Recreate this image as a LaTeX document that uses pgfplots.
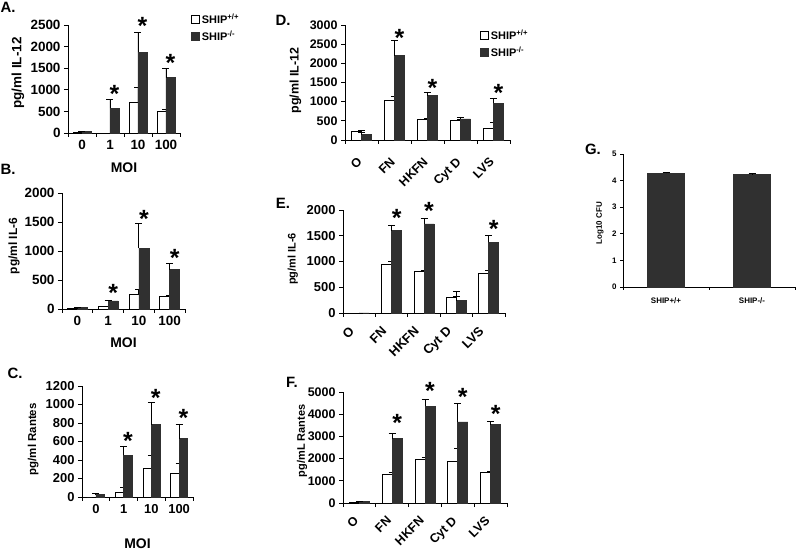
\documentclass[border=0pt]{standalone}
\usepackage{fontspec}
\setmainfont{Liberation Sans}
\usepackage{pgfplots}
\pgfplotsset{compat=1.18}
\definecolor{barblack}{gray}{0.19}
\pgfplotsset{
  panel/.style={
    scale only axis, anchor=south west, clip=false,
    axis x line*=bottom, axis y line*=left,
    axis line style={line width=0.8bp, black},
    every tick/.style={line width=0.8bp, black},
    tick align=outside, major tick length=4bp, minor tick length=4bp,
    ymin=0, enlargelimits=false, xmin=-0.5,
    major x tick style={draw=none},
    /pgf/number format/assume math mode=true,
    /pgf/number format/1000 sep={},
    scaled y ticks=false,
    error bars/y dir=plus, error bars/y explicit,
    error bars/error bar style={line width=0.8bp, black, solid},
    error bars/error mark options={rotate=90, mark size=3.5bp, line width=0.8bp, black},
    label style={font=\bfseries\fontsize{14}{14}\selectfont},
  },
  wb/.style={ybar, bar width=#1, bar shift={-0.5*#1}, fill=white, draw=black, line width=0.7bp},
  bb/.style={ybar, bar width=#1, bar shift={0.5*#1}, fill=barblack, draw=barblack, line width=0.7bp},
  shiplegend/.style={
    legend style={draw=none, fill=none, anchor=north west, inner sep=0pt,
      font=\bfseries\fontsize{11}{12}\selectfont, row sep=2bp, cells={anchor=west}},
    legend image code/.code={\draw[##1, line width=0.7bp] (0bp,-3.5bp) rectangle (8bp,4bp);},
  },
}
\tikzset{sig/.style={font=\bfseries\fontsize{25}{25}\selectfont, inner sep=0pt, anchor=base, yshift=-14.5bp, xshift=#1}}
\newcommand{\plab}[1]{\bfseries\fontsize{15}{15}\selectfont #1}
\begin{document}
\begin{tikzpicture}
\path[use as bounding box] (0bp,0bp) rectangle (796bp,551bp);

% ---------- A ----------
\begin{axis}[panel, shiplegend, at={(68bp,418bp)}, width=112bp, height=108bp,
  xmax=3.5, ymax=2500, ytick={0,500,...,2500},
  xtick={0,1,2,3}, xticklabels={0,1,10,100}, minor xtick={-0.5,0.5,1.5,2.5,3.5},
  ticklabel style={font=\bfseries\fontsize{13.5}{14}\selectfont},
  xlabel={MOI}, xlabel style={at={(axis description cs:0.5,-0.324)}, anchor=center},
  ylabel={pg/ml IL-12}, ylabel style={at={(axis description cs:-0.446,0.556)}, anchor=center, font=\bfseries\fontsize{13.5}{14}\selectfont},
  legend style={at={(axis description cs:1.098,1.12)}}]
\addplot[wb=9bp] coordinates {(0,5) +- (0,0) (1,0) +- (0,0) (2,700) +- (0,350) (3,500) +- (0,40)};
\addlegendentry{SHIP\textsuperscript{+/+}}
\addplot[bb=9bp] coordinates {(0,30) +- (0,10) (1,570) +- (0,200) (2,1870) +- (0,450) (3,1280) +- (0,220)};
\addlegendentry{SHIP\textsuperscript{-/-}}
\node[sig=4.5bp] at (axis cs:1,1042) {*};
\node[sig=4.5bp] at (axis cs:2,2616) {*};
\node[sig=4.5bp] at (axis cs:3,1759) {*};
\end{axis}

% ---------- B ----------
\begin{axis}[panel, at={(62bp,242bp)}, width=123bp, height=116bp,
  xmax=3.5, ymax=2000, ytick={0,500,...,2000},
  xtick={0,1,2,3}, xticklabels={0,1,10,100}, minor xtick={-0.5,0.5,1.5,2.5,3.5},
  ticklabel style={font=\bfseries\fontsize{13.5}{14}\selectfont},
  xlabel={MOI}, xlabel style={at={(axis description cs:0.5,-0.293)}, anchor=center},
  ylabel={pg/ml IL-6}, ylabel style={at={(axis description cs:-0.39,0.543)}, anchor=center, font=\bfseries\fontsize{12}{13}\selectfont}]
\addplot[wb=10bp] coordinates {(0,10) +- (0,0) (1,40) +- (0,10) (2,260) +- (0,80) (3,210) +- (0,30)};
\addplot[bb=10bp] coordinates {(0,20) +- (0,5) (1,140) +- (0,10) (2,1050) +- (0,420) (3,680) +- (0,110)};
\node[sig=5bp] at (axis cs:1,379) {*};
\node[sig=5bp] at (axis cs:2,1655) {*};
\node[sig=5bp] at (axis cs:3,983) {*};
\end{axis}

% ---------- C ----------
\begin{axis}[panel, at={(82bp,54bp)}, width=111bp, height=111bp,
  xmax=3.5, ymax=1200, ytick={0,200,...,1200},
  xtick={0,1,2,3}, xticklabels={0,1,10,100}, minor xtick={-0.5,0.5,1.5,2.5,3.5},
  ticklabel style={font=\bfseries\fontsize{13}{14}\selectfont},
  xlabel={MOI}, xlabel style={at={(axis description cs:0.5,-0.42)}, anchor=center},
  ylabel={pg/ml Rantes}, ylabel style={at={(axis description cs:-0.44,0.52)}, anchor=center, font=\bfseries\fontsize{11.5}{12}\selectfont}]
\addplot[wb=8.5bp] coordinates {(0,0) +- (0,0) (1,55) +- (0,50) (2,310) +- (0,140) (3,260) +- (0,100)};
\addplot[bb=8.5bp] coordinates {(0,25) +- (0,15) (1,450) +- (0,95) (2,780) +- (0,240) (3,630) +- (0,160)};
\node[sig=4.25bp] at (axis cs:1,670) {*};
\node[sig=4.25bp] at (axis cs:2,1135) {*};
\node[sig=4.25bp] at (axis cs:3,919) {*};
\end{axis}

% ---------- D ----------
\begin{axis}[panel, shiplegend, at={(345bp,411bp)}, width=165bp, height=115bp,
  xmax=4.5, ymax=3000, ytick={0,500,...,3000},
  xtick={0,1,2,3,4}, xticklabels={O,FN,HKFN,Cyt D,LVS}, minor xtick={-0.5,0.5,1.5,2.5,3.5,4.5},
  ticklabel style={font=\bfseries\fontsize{12.5}{13}\selectfont},
  x tick label style={rotate=45, anchor=north east, xshift=-9bp, yshift=-2bp},
  ylabel={pg/ml IL-12}, ylabel style={at={(axis description cs:-0.30,0.517)}, anchor=center, font=\bfseries\fontsize{12.5}{13}\selectfont},
  legend style={at={(axis description cs:0.818,0.975)}}]
\addplot[wb=10bp] coordinates {(0,230) +- (0,20) (1,1030) +- (0,100) (2,550) +- (0,20) (3,520) +- (0,20) (4,300) +- (0,150)};
\addlegendentry{SHIP\textsuperscript{+/+}}
\addplot[bb=10bp] coordinates {(0,140) +- (0,50) (1,2200) +- (0,400) (2,1160) +- (0,80) (3,550) +- (0,50) (4,960) +- (0,130)};
\addlegendentry{SHIP\textsuperscript{-/-}}
\node[sig=5bp] at (axis cs:1,2817) {*};
\node[sig=5bp] at (axis cs:2,1513) {*};
\node[sig=5bp] at (axis cs:4,1383) {*};
\end{axis}

% ---------- E ----------
\begin{axis}[panel, at={(343bp,238bp)}, width=162bp, height=103bp,
  xmax=4.5, ymax=2000, ytick={0,500,...,2000},
  xtick={0,1,2,3,4}, xticklabels={O,FN,HKFN,Cyt D,LVS}, minor xtick={-0.5,0.5,1.5,2.5,3.5,4.5},
  ticklabel style={font=\bfseries\fontsize{13}{13}\selectfont},
  x tick label style={rotate=45, anchor=north east, xshift=-10bp, yshift=5bp},
  ylabel={pg/ml IL-6}, ylabel style={at={(axis description cs:-0.31,0.524)}, anchor=center, font=\bfseries\fontsize{11}{12}\selectfont}]
\addplot[wb=10bp] coordinates {(0,0) +- (0,0) (1,940) +- (0,70) (2,800) +- (0,30) (3,310) +- (0,110) (4,770) +- (0,50)};
\addplot[bb=10bp] coordinates {(0,0) +- (0,0) (1,1600) +- (0,110) (2,1730) +- (0,110) (3,240) +- (0,90) (4,1370) +- (0,130)};
\node[sig=5bp] at (axis cs:1,1961) {*};
\node[sig=5bp] at (axis cs:2,2097) {*};
\node[sig=5bp] at (axis cs:4,1748) {*};
\end{axis}

% ---------- F ----------
\begin{axis}[panel, at={(343bp,48bp)}, width=164bp, height=111bp,
  xmax=4.5, ymax=5000, ytick={0,1000,...,5000},
  xtick={0,1,2,3,4}, xticklabels={O,FN,HKFN,Cyt D,LVS}, minor xtick={-0.5,0.5,1.5,2.5,3.5,4.5},
  ticklabel style={font=\bfseries\fontsize{12.5}{13}\selectfont},
  x tick label style={rotate=45, anchor=north east, xshift=-7bp, yshift=2bp},
  ylabel={pg/mL Rantes}, ylabel style={at={(axis description cs:-0.25,0.56)}, anchor=center, font=\bfseries\fontsize{11}{12}\selectfont}]
\addplot[wb=10bp] coordinates {(0,40) +- (0,0) (1,1300) +- (0,80) (2,1980) +- (0,60) (3,1870) +- (0,600) (4,1400) +- (0,20)};
\addplot[bb=10bp] coordinates {(0,80) +- (0,10) (1,2900) +- (0,250) (2,4350) +- (0,300) (3,3650) +- (0,850) (4,3530) +- (0,150)};
\node[sig=5bp] at (axis cs:1,3874) {*};
\node[sig=5bp] at (axis cs:2,5315) {*};
\node[sig=5bp] at (axis cs:3,5045) {*};
\node[sig=5bp] at (axis cs:4,4279) {*};
\end{axis}

% ---------- G ----------
\begin{axis}[panel, at={(623bp,264bp)}, width=172bp, height=133bp,
  xmax=1.5, ymax=5, ytick={0,1,...,5},
  xtick={0,1}, xticklabels={SHIP+/+,SHIP-/-}, minor xtick={-0.5,0.5,1.5},
  major tick length=3bp, minor tick length=3bp,
  ticklabel style={font=\bfseries\fontsize{8}{9}\selectfont},
  x tick label style={yshift=-4bp},
  ylabel={Log10 CFU}, ylabel style={at={(axis description cs:-0.134,0.48)}, anchor=center, font=\bfseries\fontsize{8}{9}\selectfont}]
\addplot[bb=37bp, bar shift=0bp] coordinates {(0,4.27) +- (0,0.05) (1,4.24) +- (0,0.02)};
\end{axis}

% ---------- panel letters ----------
\node[font=\plab{}] at (8bp,544bp) {A.};
\node[font=\plab{}] at (8bp,382bp) {B.};
\node[font=\plab{}] at (15bp,178bp) {C.};
\node[font=\plab{}] at (283bp,531bp) {D.};
\node[font=\plab{}] at (283bp,348bp) {E.};
\node[font=\plab{}] at (292bp,169bp) {F.};
\node[font=\plab{}] at (593bp,402bp) {G.};
\end{tikzpicture}
\end{document}
